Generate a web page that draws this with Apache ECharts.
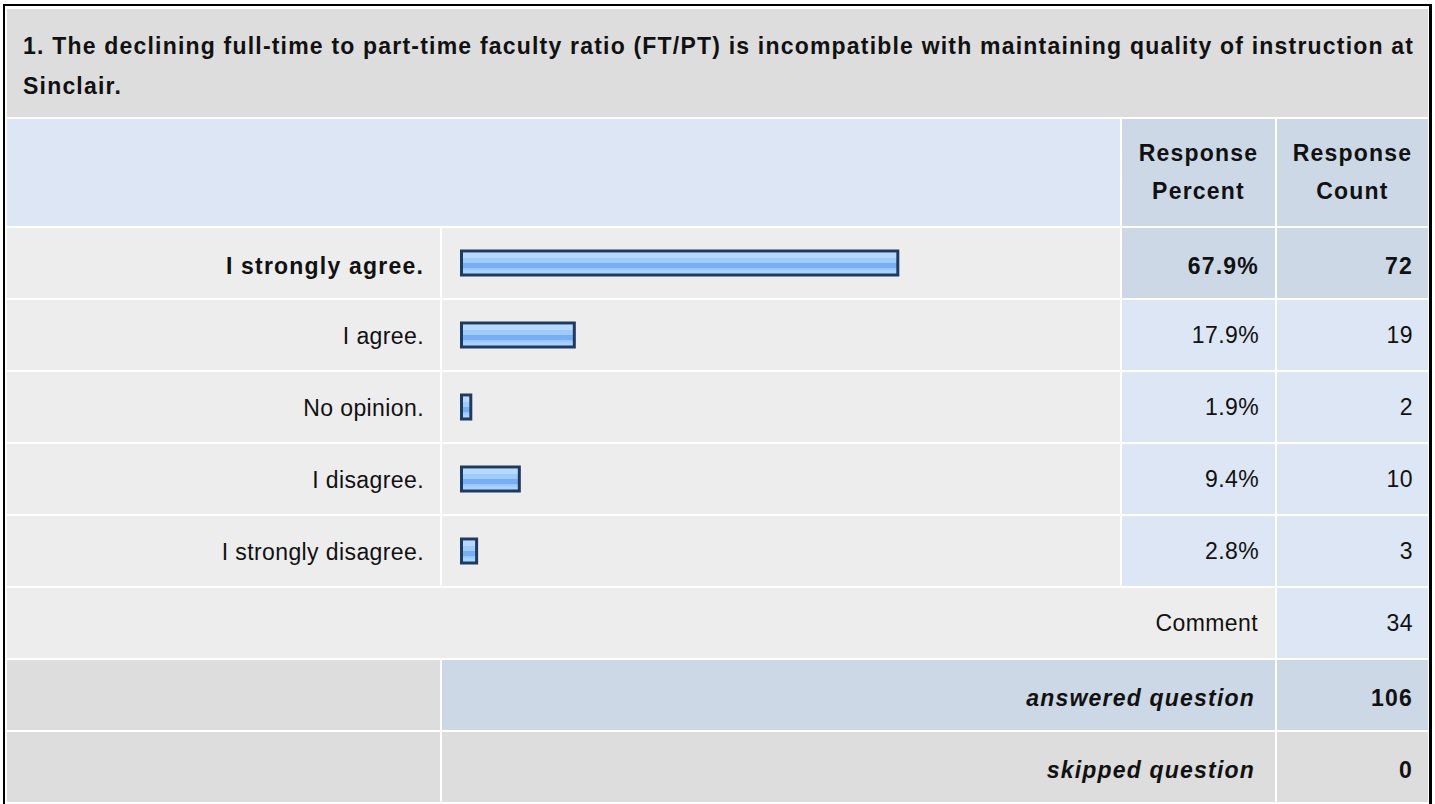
<!DOCTYPE html>
<html>
<head>
<meta charset="utf-8">
<script src="https://cdn.jsdelivr.net/npm/echarts@6/dist/echarts.min.js"></script>
<style>
html,body{margin:0;padding:0;background:#ffffff;}
#c{width:1435px;height:804px;}
#c svg text{letter-spacing:0.4px;}
#c svg text[style*="bold"]{letter-spacing:1.2px;}
</style>
</head>
<body>
<div id="c"></div>
<script>
// ---- data ----
const titleLines = [
  '1. The declining full-time to part-time faculty ratio (FT/PT) is incompatible with maintaining quality of instruction at',
  'Sinclair.'
];
const headerLabels = ['Response\nPercent', 'Response\nCount'];
const categories = ['I strongly agree.', 'I agree.', 'No opinion.', 'I disagree.', 'I strongly disagree.'];
const percentValues = [67.9, 17.9, 1.9, 9.4, 2.8];
const countValues = [72, 19, 2, 10, 3];
const commentLabel = 'Comment';
const commentCount = 34;
const answeredLabel = 'answered question';
const answeredCount = 106;
const skippedLabel = 'skipped question';
const skippedCount = 0;

// ---- layout / style ----
const FONT = '"Liberation Sans", Arial, Helvetica, sans-serif';
const FS = 23;
const TXT = '#111111';
const C_TITLE = '#dddddd';
const C_ROW = '#ededed';
const C_LIGHT = '#dce6f4';
const C_DARK = '#ccd8e6';
const X0 = 7, X1 = 440, X2 = 442, X3 = 1120, X4 = 1122, X5 = 1275, X6 = 1277, X7 = 1428;
const ROW_TOP = 228, ROW_H = 72, CELL_H = 70;

const chart = echarts.init(document.getElementById('c'), null, {renderer: 'svg'});

const barGradient = new echarts.graphic.LinearGradient(0, 0, 0, 1, [
  {offset: 0, color: '#d6ecff'},
  {offset: 0.1, color: '#d6ecff'},
  {offset: 0.1, color: '#b6dafe'},
  {offset: 0.28, color: '#b6dafe'},
  {offset: 0.28, color: '#9ecbff'},
  {offset: 0.5, color: '#9ecbff'},
  {offset: 0.5, color: '#79aef3'},
  {offset: 0.72, color: '#79aef3'},
  {offset: 0.72, color: '#93c4ff'},
  {offset: 0.86, color: '#a9d4ff'},
  {offset: 1, color: '#a9d4ff'}
]);

chart.setOption({
  animation: false,
  backgroundColor: '#ffffff',
  grid: {left: 460, top: 227, width: 647, height: 360, containLabel: false},
  xAxis: {type: 'value', min: 0, max: 100, show: false},
  yAxis: {
    type: 'category',
    data: categories,
    inverse: true,
    axisLine: {show: false},
    axisTick: {show: false},
    splitLine: {show: false},
    axisLabel: {
      margin: 36,
      formatter: function (v, i) { return i === 0 ? '{b|' + v + '}' : '{n|' + v + '}'; },
      rich: {
        b: {fontFamily: FONT, fontSize: FS, fontWeight: 'bold', color: TXT, padding: [6, 0, 0, 0]},
        n: {fontFamily: FONT, fontSize: FS, color: TXT, padding: [1, 0, 0, 0]}
      }
    }
  },
  series: [{
    type: 'bar',
    data: percentValues,
    barWidth: 27,
    z: 5,
    itemStyle: {color: barGradient, borderColor: '#1f3a60', borderWidth: 3}
  }]
});

// ---- table cells & texts ----
function rect(x1, y1, x2, y2, fill) {
  return {type: 'rect', z: -5, silent: true, shape: {x: x1, y: y1, width: x2 - x1, height: y2 - y1}, style: {fill: fill}};
}
function txt(text, x, y, opts) {
  opts = opts || {};
  return {
    type: 'text', z: 20, silent: true,
    style: {
      text: text, x: x, y: y,
      fontFamily: FONT, fontSize: FS,
      fontWeight: opts.bold ? 'bold' : 'normal',
      fontStyle: opts.italic ? 'italic' : 'normal',
      fill: TXT,
      align: opts.align || 'right', textAlign: opts.align || 'right',
      verticalAlign: opts.va || 'middle', textVerticalAlign: opts.va || 'middle',
      lineHeight: opts.lh || FS
    }
  };
}

(function () {
  const els = [];
  // outer frame
  els.push(rect(3, 4, 5, 804, '#000000'));
  els.push(rect(3, 4, 1432, 6, '#000000'));
  els.push(rect(1429, 4, 1432, 804, '#000000'));
  // title
  els.push(rect(X0, 9, X7, 117, C_TITLE));
  els.push(txt(titleLines.join('\n'), 23, 26.3, {bold: true, align: 'left', va: 'top', lh: 40}));
  // header
  els.push(rect(X0, 119, X3, 226, C_LIGHT));
  els.push(rect(X4, 119, X5, 226, C_DARK));
  els.push(rect(X6, 119, X7, 226, C_DARK));
  els.push(txt(headerLabels[0], (X4 + X5) / 2, 171.5, {bold: true, align: 'center', lh: 38}));
  els.push(txt(headerLabels[1], (X6 + X7) / 2, 171.5, {bold: true, align: 'center', lh: 38}));

  // answer rows
  categories.forEach(function (c, i) {
    const rt = ROW_TOP + ROW_H * i;
    const cy = chart.convertToPixel({yAxisIndex: 0}, c);
    const strong = i === 0;
    els.push(rect(X0, rt, X1, rt + CELL_H, C_ROW));
    els.push(rect(X2, rt, X3, rt + CELL_H, C_ROW));
    els.push(rect(X4, rt, X5, rt + CELL_H, strong ? C_DARK : C_LIGHT));
    els.push(rect(X6, rt, X7, rt + CELL_H, strong ? C_DARK : C_LIGHT));
    const dy = strong ? 3.1 : 0.4;
    els.push(txt(percentValues[i].toFixed(1) + '%', 1259, cy + dy, {bold: strong}));
    els.push(txt(String(countValues[i]), 1413, cy + dy, {bold: strong}));
  });

  // comment row
  let rt = ROW_TOP + ROW_H * categories.length;
  let cy = rt + CELL_H / 2;
  els.push(rect(X0, rt, X5, rt + CELL_H, C_ROW));
  els.push(rect(X6, rt, X7, rt + CELL_H, C_LIGHT));
  els.push(txt(commentLabel, 1258, cy + 0.4));
  els.push(txt(String(commentCount), 1413, cy + 0.4));

  // answered row
  rt += ROW_H; cy = rt + CELL_H / 2;
  els.push(rect(X0, rt, X1, rt + CELL_H, C_TITLE));
  els.push(rect(X2, rt, X5, rt + CELL_H, C_DARK));
  els.push(rect(X6, rt, X7, rt + CELL_H, C_DARK));
  els.push(txt(answeredLabel, 1255, cy + 3.1, {bold: true, italic: true}));
  els.push(txt(String(answeredCount), 1413, cy + 3.1, {bold: true}));

  // skipped row
  rt += ROW_H; cy = rt + CELL_H / 2;
  els.push(rect(X0, rt, X1, rt + CELL_H, C_TITLE));
  els.push(rect(X2, rt, X5, rt + CELL_H, C_TITLE));
  els.push(rect(X6, rt, X7, rt + CELL_H, C_TITLE));
  els.push(txt(skippedLabel, 1255, cy + 3.1, {bold: true, italic: true}));
  els.push(txt(String(skippedCount), 1413, cy + 3.1, {bold: true}));

  chart.setOption({graphic: {elements: els}});
})();
</script>
</body>
</html>
